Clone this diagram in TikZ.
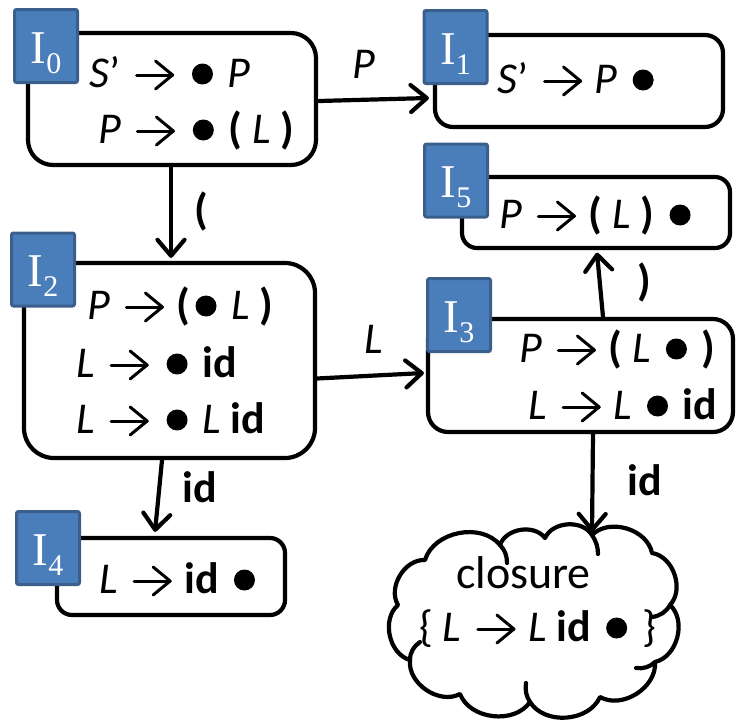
\documentclass[tikz,border=0pt]{standalone}
\usepackage{fontspec}
\setmainfont{Carlito}
\newfontfamily\tagfont{Liberation Serif}
\usetikzlibrary{arrows.meta,calc}
\definecolor{tagfill}{HTML}{4A7EBB}
\definecolor{tagline}{HTML}{3A5F8C}
% item dot and production arrow, drawn so that they keep one size everywhere
\newcommand{\tdot}{\hspace*{5pt}\tikz[baseline=0pt,x=1pt,y=1pt]{\fill[black] (10.5,13) circle[radius=10.5];}\hspace*{5pt}}
\newcommand{\tarrow}{\hspace*{5pt}\tikz[baseline=0pt,x=1pt,y=1pt,line width=3pt,line cap=round,line join=round]{\draw (0,12) -- (36,12); \draw (19,26) -- (36,12) -- (19,-2);}\hspace*{3pt}}
\newcommand{\tagsub}[1]{\raisebox{-10pt}{\fontsize{30}{30}\selectfont #1}}
\begin{document}
\begin{tikzpicture}[x=1pt,y=-1pt,
  itembox/.style={draw, line width=4.2pt, inner sep=0pt},
  tag/.style={draw=tagline, fill=tagfill, line width=3pt, minimum width=63pt,
    minimum height=73pt, inner sep=0pt, rounded corners=2pt},
  tagtext/.style={anchor=base, inner sep=0pt, text=white,
    font=\tagfont\fontsize{47}{47}\selectfont},
  txt/.style={anchor=base west, inner sep=0pt, font=\fontsize{44}{52}\selectfont},
  puff/.style={bend left=62},
  cloudline/.style={line width=4.2pt, line join=round, line cap=round},
  flow/.style={line width=4.2pt, line cap=round,
    -{Straight Barb[length=16pt,width=27pt,round]}}]
\useasboundingbox (0,0) rectangle (736,726);

% item sets
\node[itembox, rounded corners=25pt, minimum width=288pt, minimum height=132pt] (b0) at (172,99) {};
\node[itembox, rounded corners=18pt, minimum width=288pt, minimum height=92pt] (b1) at (579,81) {};
\node[itembox, rounded corners=15pt, minimum width=268pt, minimum height=71pt] (b5) at (596,212.5) {};
\node[itembox, rounded corners=30pt, minimum width=291pt, minimum height=195pt] (b2) at (169.5,360.5) {};
\node[itembox, rounded corners=20pt, minimum width=305pt, minimum height=113pt] (b3) at (580.5,375.5) {};
\node[itembox, rounded corners=15pt, minimum width=228pt, minimum height=77pt] (b4) at (171,576.5) {};

% closure cloud, puff by puff
\coordinate (cltop) at (592,535);
\draw[cloudline]
  (cltop) to[puff] (652,553) to[puff] (670,605) to[puff] (655,662)
  to[puff] (600,697) to[puff] (530,702) to[puff] (460,694)
  to[puff] (410,660) to[puff] (398,605) to[puff] (425,560)
  to[puff] (500,545) to[puff] (545,538) to[puff] (cltop) -- cycle;
% short inner strokes where the puffs meet
\draw[cloudline] (500,545) .. controls (505,550) and (507,556) .. (507,563);
\draw[cloudline] (592,535) .. controls (596,541) and (598,547) .. (598,554);
\draw[cloudline] (670,605) .. controls (666,612) and (660,616) .. (652,617);
\draw[cloudline] (655,662) .. controls (650,667) and (643,669) .. (636,668);
\draw[cloudline] (530,702) .. controls (526,696) and (525,690) .. (526,683);
\draw[cloudline] (410,660) .. controls (410,652) and (414,646) .. (420,642);

% set tags
\node[tag] (t0) at (46,46) {};
\node[tag] (t1) at (455.5,47) {};
\node[tag] (t5) at (456,180.5) {};
\node[tag] (t2) at (43,269.5) {};
\node[tag] (t3) at (459,315) {};
\node[tag] (t4) at (48,548) {};
\node[tagtext] (n0) at (46,63) {I\tagsub{0}};
\node[tagtext] (n1) at (455.5,64) {I\tagsub{1}};
\node[tagtext] (n5) at (456,197.5) {I\tagsub{5}};
\node[tagtext] (n2) at (43,286.5) {I\tagsub{2}};
\node[tagtext] (n3) at (459,332) {I\tagsub{3}};
\node[tagtext] (n4) at (48,565) {I\tagsub{4}};

% items
\node[txt] (i0a) at (89,87) {\textit{S}’ \tarrow{} \tdot{} \textit{P}};
\node[txt] (i0b) at (98,143) {\textit{P} \tarrow{} \tdot{} \textbf{(} \textit{L} \textbf{)}};
\node[txt] (i1a) at (497,93) {\textit{S}’ \tarrow{} \textit{P} \tdot};
\node[txt] (i5a) at (499,228) {\textit{P} \tarrow{} \textbf{(} \textit{L} \textbf{)} \tdot};
\node[txt] (i2a) at (87,319) {\textit{P} \tarrow{} \textbf{(}\tdot{} \textit{L} \textbf{)}};
\node[txt] (i2b) at (76,377) {\textit{L} \tarrow{} \tdot{} \textbf{id}};
\node[txt] (i2c) at (76,433) {\textit{L} \tarrow{} \tdot{} \textit{L} \textbf{id}};
\node[txt] (i3a) at (519,362) {\textit{P} \tarrow{} \textbf{(} \textit{L} \tdot{} \textbf{)}};
\node[txt] (i3b) at (528,419) {\textit{L} \tarrow{} \textit{L} \tdot{} \textbf{id}};
\node[txt] (i4a) at (99,593) {\textit{L} \tarrow{} \textbf{id} \tdot};
\node[txt, anchor=base, font=\fontsize{46}{52}\selectfont] (c1) at (523.5,588) {closure};
\node[txt] (c2) at (419,641) {\{ \textit{L} \tarrow{} \textit{L} \textbf{id} \tdot{} \}};

% transitions
\draw[flow] ($(b0.east)+(1,2)$) -- ($(b1.west)+(-4,17)$);
\draw[flow] ($(b0.south)+(-1,0)$) -- ($(b2.north)+(1.5,-3)$);
\draw[flow] ($(b2.east)+(0,18)$) -- ($(b3.west)+(-2,-2.5)$);
\draw[flow] ($(b3.north)+(22.5,0)$) -- ($(b5.south)+(1,2.5)$);
\draw[flow] ($(b2.south)+(-7.5,0)$) -- ($(b4.north)+(-16,-4)$);
\draw[flow] ($(b3.south)+(12.5,0)$) -- ($(cltop)+(0,-3)$);

% transition symbols
\node[txt] (lP) at (352,78) {\textit{P}};
\node[txt] (lo) at (194,224) {\textbf{(}};
\node[txt] (lL) at (364,353) {\textit{L}};
\node[txt] (lc) at (637,295) {\textbf{)}};
\node[txt] (lid1) at (182,502) {\textbf{id}};
\node[txt] (lid2) at (627,495) {\textbf{id}};
\end{tikzpicture}
\end{document}
